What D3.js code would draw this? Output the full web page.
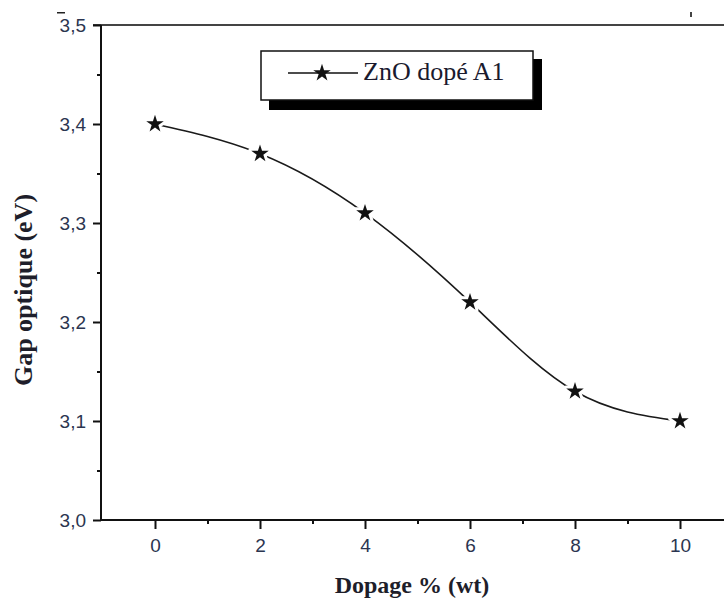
<!DOCTYPE html>
<html><head><meta charset="utf-8">
<script src="https://cdn.jsdelivr.net/npm/d3@7"></script>
<style>body{margin:0;background:#fff}svg{display:block}</style>
</head><body>
<svg id="c" width="724" height="599"></svg>
<script>
const dopage = [0, 2, 4, 6, 8, 10];
const gap = [3.40, 3.37, 3.31, 3.22, 3.13, 3.10];
const xTicks = [0, 2, 4, 6, 8, 10];
const xMinor = [1, 3, 5, 7, 9];
const yTicks = [3.0, 3.1, 3.2, 3.3, 3.4, 3.5];
const yMinor = [3.05, 3.15, 3.25, 3.35, 3.45];
const legendLabel = "ZnO dopé A1";
const xTitle = "Dopage % (wt)";
const yTitle = "Gap optique (eV)";

const svg = d3.select("#c");
const pLeft = 101, pTop = 25, pBottom = 520, pRight = 730;
const x = d3.scaleLinear().domain([0, 10]).range([155, 680]);
const y = d3.scaleLinear().domain([3.0, 3.5]).range([pBottom, pTop]);
const fmt = d => d3.format(".1f")(d).replace(".", ",");
const sans = "Liberation Sans, Arial, sans-serif";
const serif = "Liberation Serif, Times New Roman, serif";
const tickCol = "#2b3550";

// axes lines
svg.append("line").attr("x1", pLeft).attr("x2", pRight).attr("y1", pBottom).attr("y2", pBottom).attr("stroke", "#111").attr("stroke-width", 2);
svg.append("line").attr("x1", pLeft - 8).attr("x2", pRight).attr("y1", pTop).attr("y2", pTop).attr("stroke", "#444").attr("stroke-width", 2);
svg.append("line").attr("x1", pLeft).attr("x2", pLeft).attr("y1", pTop).attr("y2", pBottom).attr("stroke", "#111").attr("stroke-width", 2);

// y axis
const yAxis = d3.axisLeft(y).tickValues(yTicks).tickSize(8).tickPadding(7).tickFormat(fmt);
const gy = svg.append("g").attr("transform", `translate(${pLeft},0)`).call(yAxis);
gy.select(".domain").remove();
gy.selectAll(".tick line").attr("stroke", "#111").attr("stroke-width", 2);
gy.selectAll(".tick text").attr("font-family", sans).attr("font-size", 19).attr("fill", tickCol);
const gym = svg.append("g").attr("transform", `translate(${pLeft},0)`)
  .call(d3.axisLeft(y).tickValues(yMinor).tickSize(4).tickFormat(""));
gym.select(".domain").remove();
gym.selectAll(".tick line").attr("stroke", "#111").attr("stroke-width", 2);

// x axis
const xAxis = d3.axisBottom(x).tickValues(xTicks).tickSize(9).tickPadding(10).tickFormat(d3.format("d"));
const gx = svg.append("g").attr("transform", `translate(0,${pBottom})`).call(xAxis);
gx.select(".domain").remove();
gx.selectAll(".tick line").attr("stroke", "#111").attr("stroke-width", 2);
gx.selectAll(".tick text").attr("font-family", sans).attr("font-size", 19).attr("fill", tickCol);
const gxm = svg.append("g").attr("transform", `translate(0,${pBottom})`)
  .call(d3.axisBottom(x).tickValues(xMinor).tickSize(4).tickFormat(""));
gxm.select(".domain").remove();
gxm.selectAll(".tick line").attr("stroke", "#111").attr("stroke-width", 2);

// curve
const pts = dopage.map((d, i) => [d, gap[i]]);
const line = d3.line().x(d => x(d[0])).y(d => y(d[1])).curve(d3.curveNatural);
svg.append("path").attr("d", line(pts)).attr("fill", "none").attr("stroke", "#1a1a1a").attr("stroke-width", 1.6);

const star = d3.symbol().type(d3.symbolStar).size(95);
svg.selectAll(".pt").data(pts).join("path").attr("class", "pt")
  .attr("transform", d => `translate(${x(d[0])},${y(d[1])})`)
  .attr("d", star).attr("fill", "#111")
  .attr("stroke", "#fff").attr("stroke-width", 6).attr("paint-order", "stroke").attr("stroke-linejoin", "round");

// legend
svg.append("rect").attr("x", 269).attr("y", 59).attr("width", 273).attr("height", 51).attr("fill", "#000");
svg.append("rect").attr("x", 261).attr("y", 51).attr("width", 272).attr("height", 49).attr("fill", "#fff").attr("stroke", "#111").attr("stroke-width", 1.5);
svg.append("line").attr("x1", 288).attr("x2", 358).attr("y1", 73).attr("y2", 73).attr("stroke", "#111").attr("stroke-width", 1.5);
svg.append("path").attr("transform", "translate(322,73)").attr("d", d3.symbol().type(d3.symbolStar).size(95)).attr("fill", "#111");
svg.append("text").attr("x", 363).attr("y", 80).attr("font-family", serif).attr("font-size", 26).attr("fill", "#1a1a2e").text(legendLabel);

// titles
svg.append("text").attr("x", 412).attr("y", 593).attr("text-anchor", "middle").attr("font-family", serif).attr("font-weight", "bold").attr("font-size", 24).attr("fill", "#1e1e2a").text(xTitle);
svg.append("text").attr("transform", "translate(32,290) rotate(-90)").attr("text-anchor", "middle").attr("font-family", serif).attr("font-weight", "bold").attr("font-size", 26).attr("fill", "#1e1e2a").text(yTitle);

// small stray marks
svg.append("rect").attr("x", 690).attr("y", 12).attr("width", 2).attr("height", 5).attr("fill", "#444");
svg.append("rect").attr("x", 57).attr("y", 12).attr("width", 8).attr("height", 1.5).attr("fill", "#222");
</script>
</body></html>
